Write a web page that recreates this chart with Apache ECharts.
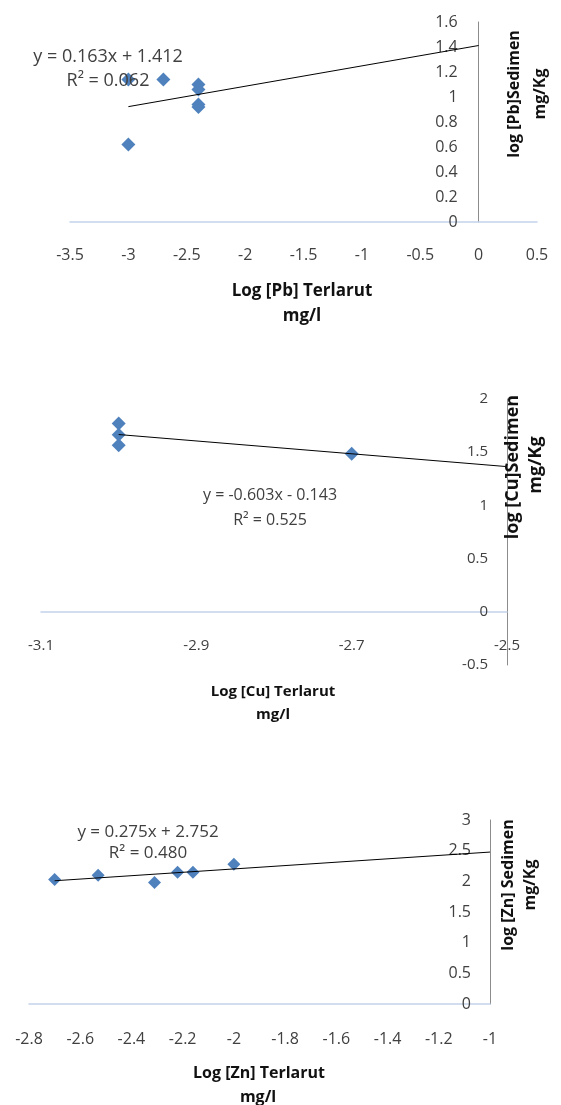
<!DOCTYPE html>
<html>
<head>
<meta charset="utf-8">
<script src="https://cdn.jsdelivr.net/npm/echarts@6/dist/echarts.min.js"></script>
<style>
  html, body { margin: 0; padding: 0; background: #ffffff; }
  #chart { width: 561px; height: 1105px; }
</style>
</head>
<body>
<div id="chart"></div>
<script>
// ---- Pb: dissolved vs sediment (log10) ----
const pbX = [-3.0, -3.0, -2.7, -2.4, -2.4, -2.4, -2.4];
const pbY = [1.14, 0.62, 1.14, 1.10, 1.06, 0.94, 0.92];
const pbFit = [0.163, 1.412];          // slope, intercept
const pbR2 = 0.062;
const pbTrendX = [-3.0, 0.0];
const pbXAxis = [-3.5, 0.5, 0.5];      // min, max, step
const pbYAxis = [0, 1.6, 0.2];

// ---- Cu ----
const cuX = [-3.0, -3.0, -3.0, -2.7];
const cuY = [1.77, 1.665, 1.565, 1.485];
const cuFit = [-0.603, -0.143];
const cuR2 = 0.525;
const cuTrendX = [-3.0, -2.5];
const cuXAxis = [-3.1, -2.5, 0.2];
const cuYAxis = [-0.5, 2, 0.5];

// ---- Zn ----
const znX = [-2.70, -2.53, -2.31, -2.22, -2.16, -2.00];
const znY = [2.03, 2.10, 1.98, 2.15, 2.15, 2.28];
const znFit = [0.275, 2.752];
const znR2 = 0.480;
const znTrendX = [-2.7, -1.0];
const znXAxis = [-2.8, -1.0, 0.2];
const znYAxis = [0, 3, 0.5];

const FONT = '"Open Sans", "Liberation Sans", sans-serif';
const TEXT = '#404040';
const TITLE = '#111111';
const BLUE = '#4F81BD';
const XLINE = '#C3D2EA';
const YLINE = '#8C8C8C';

// plot boxes
const pbBox = { left: 70, top: 22, width: 467, height: 200 };
const cuBox = { left: 41, top: 399, width: 466, height: 266 };
const znBox = { left: 29, top: 820, width: 461, height: 184 };

// The Pb value axis stands at x = 0 inside the plot; the Cu category line
// stands at y = 0 above the plot bottom. Each gets a helper grid whose edge
// sits exactly on that zero so the axis and its labels are drawn there.
const pbZeroX = pbBox.left + pbBox.width * (0 - pbXAxis[0]) / (pbXAxis[1] - pbXAxis[0]);
const cuZeroY = cuBox.top + cuBox.height * (cuYAxis[1] - 0) / (cuYAxis[1] - cuYAxis[0]);

function pairs(xs, ys) { return xs.map((x, i) => [x, ys[i]]); }
function trendPoints(fit, xs) { return xs.map(x => [x, fit[0] * x + fit[1]]); }
function eqText(fit) {
  const b = fit[1];
  return 'y = ' + fit[0].toFixed(3) + 'x ' + (b < 0 ? '- ' : '+ ') + Math.abs(b).toFixed(3);
}
function r2Text(r2) { return 'R\u00b2 = ' + r2.toFixed(3); }
const tickFmt = v => String(Math.round(v * 10) / 10);

function hiddenAxis(gridIndex, min, max) {
  return { type: 'value', gridIndex, min, max, show: false, splitLine: { show: false } };
}
function xAxisCfg(gridIndex, ax, fontSize, margin) {
  return {
    type: 'value', gridIndex, min: ax[0], max: ax[1], interval: ax[2],
    position: 'bottom',
    axisLine: { show: true, onZero: false, lineStyle: { color: XLINE, width: 1.5 } },
    axisTick: { show: false },
    splitLine: { show: false },
    axisLabel: {
      show: true, margin, color: TEXT, fontFamily: FONT, fontSize,
      showMinLabel: true, showMaxLabel: true, formatter: tickFmt
    }
  };
}
function yAxisCfg(gridIndex, ax, fontSize, position, inside, margin) {
  return {
    type: 'value', gridIndex, min: ax[0], max: ax[1], interval: ax[2],
    position,
    axisLine: { show: true, onZero: false, lineStyle: { color: YLINE, width: 1 } },
    axisTick: { show: false },
    splitLine: { show: false },
    axisLabel: {
      show: true, inside, margin, color: TEXT, fontFamily: FONT, fontSize,
      showMinLabel: true, showMaxLabel: true, formatter: tickFmt
    }
  };
}
function scatter(idx, xs, ys, size) {
  return {
    type: 'scatter', xAxisIndex: idx, yAxisIndex: idx,
    data: pairs(xs, ys), symbol: 'diamond', symbolSize: size,
    itemStyle: { color: BLUE, opacity: 1 }, z: 2, silent: true
  };
}
function trend(idx, fit, xs) {
  return {
    type: 'line', xAxisIndex: idx, yAxisIndex: idx,
    data: trendPoints(fit, xs), showSymbol: false, symbol: 'none',
    lineStyle: { color: '#000000', width: 1 }, z: 3, silent: true
  };
}
function label(x, y, text, size, bold, color, rotate) {
  return {
    type: 'text', x, y, rotation: rotate ? Math.PI / 2 : 0, silent: true, z: 10,
    style: {
      text, fill: color, fontFamily: FONT, fontSize: size,
      fontWeight: bold ? 'bold' : 'normal', align: 'center', verticalAlign: 'middle'
    }
  };
}

const chart = echarts.init(document.getElementById('chart'), null, { renderer: 'canvas' });
chart.setOption({
  backgroundColor: '#ffffff',
  animation: false,
  grid: [
    pbBox,
    cuBox,
    znBox,
    // Pb: vertical axis at x = 0
    { left: pbZeroX, top: pbBox.top, width: pbBox.left + pbBox.width - pbZeroX, height: pbBox.height },
    // Cu: horizontal axis at y = 0
    { left: cuBox.left, top: cuBox.top, width: cuBox.width, height: cuZeroY - cuBox.top }
  ],
  xAxis: [
    xAxisCfg(0, pbXAxis, 16, 25),
    hiddenAxis(1, cuXAxis[0], cuXAxis[1]),
    xAxisCfg(2, znXAxis, 16, 27),
    hiddenAxis(3, 0, pbXAxis[1]),
    xAxisCfg(4, cuXAxis, 15, 26)
  ],
  yAxis: [
    hiddenAxis(0, pbYAxis[0], pbYAxis[1]),
    yAxisCfg(1, cuYAxis, 15, 'right', true, 19),
    yAxisCfg(2, znYAxis, 16, 'right', true, 19),
    yAxisCfg(3, pbYAxis, 16, 'left', false, 21),
    hiddenAxis(4, 0, cuYAxis[1])
  ],
  series: [
    scatter(0, pbX, pbY, 14), trend(0, pbFit, pbTrendX),
    scatter(1, cuX, cuY, 14), trend(1, cuFit, cuTrendX),
    scatter(2, znX, znY, 13), trend(2, znFit, znTrendX)
  ],
  graphic: [
    // Pb
    label(108, 57, eqText(pbFit), 18, false, TEXT),
    label(108, 81, r2Text(pbR2), 18, false, TEXT),
    label(302, 291, 'Log [Pb] Terlarut', 17, true, TITLE),
    label(302, 316, 'mg/l', 17, true, TITLE),
    label(514, 94, 'log [Pb]Sedimen', 16, true, TITLE, true),
    label(540, 94, 'mg/Kg', 16, true, TITLE, true),
    // Cu
    label(270, 495, eqText(cuFit), 16, false, TEXT),
    label(270, 520, r2Text(cuR2), 16, false, TEXT),
    label(273, 692, 'Log [Cu] Terlarut', 15, true, TITLE),
    label(273, 715, 'mg/l', 15, true, TITLE),
    label(513, 467, 'log [Cu]Sedimen', 18, true, TITLE, true),
    label(536, 465, 'mg/Kg', 18, true, TITLE, true),
    // Zn
    label(148, 832, eqText(znFit), 17, false, TEXT),
    label(148, 853, r2Text(znR2), 17, false, TEXT),
    label(259, 1073, 'Log [Zn] Terlarut', 16, true, TITLE),
    label(258, 1097, 'mg/l', 16, true, TITLE),
    label(508, 885, 'log [Zn] Sedimen', 16, true, TITLE, true),
    label(530, 885, 'mg/Kg', 16, true, TITLE, true)
  ]
});
</script>
</body>
</html>
